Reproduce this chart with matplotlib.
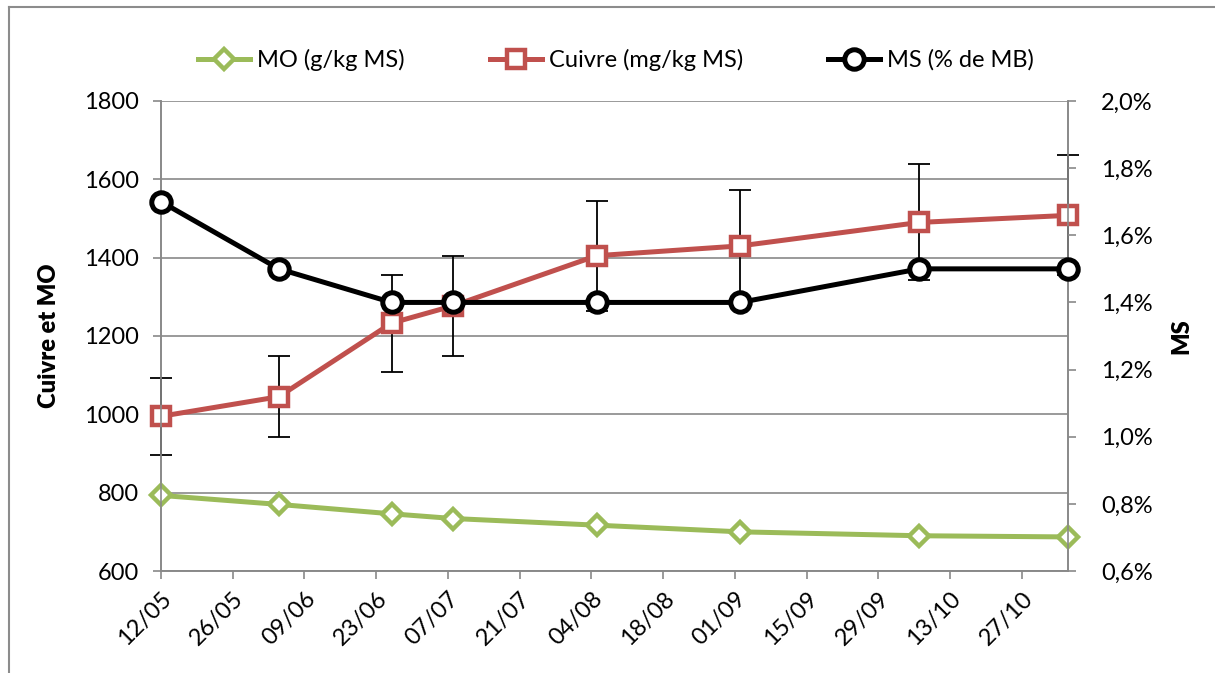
import datetime as dt

import matplotlib
matplotlib.use("Agg")
import matplotlib.pyplot as plt
import matplotlib.dates as mdates
from matplotlib.lines import Line2D
from matplotlib.ticker import FuncFormatter

plt.rcParams["font.family"] = ["Lato", "DejaVu Sans"]

# -----------------------------
# Data
# -----------------------------
YEAR = 2013
DATES = ["12/05", "04/06", "26/06", "08/07", "05/08", "02/09", "07/10", "05/11"]
MO = [793, 770, 746, 734, 717, 700, 690, 687]                   # g/kg MS
CUIVRE = [995, 1045, 1233, 1277, 1405, 1430, 1490, 1508]         # mg/kg MS
CUIVRE_ERR = [98, 104, 124, 127, 140, 143, 148, 153]
MS = [1.7, 1.5, 1.4, 1.4, 1.4, 1.4, 1.5, 1.5]                    # % de MB

LEFT_TICKS = [600, 800, 1000, 1200, 1400, 1600, 1800]
RIGHT_TICKS = [0.6, 0.8, 1.0, 1.2, 1.4, 1.6, 1.8, 2.0]

GREEN = "#9BBB59"
RED = "#C0504D"
GRID = "#898989"
FS = 17


def to_date(s):
    d, m = s.split("/")
    return dt.date(YEAR, int(m), int(d))


x = [to_date(s) for s in DATES]
xticks = [x[0] + dt.timedelta(days=14 * i) for i in range(13)]

fig = plt.figure(figsize=(12.15, 6.73), dpi=100)
ax = fig.add_axes([161 / 1215, 1 - 571 / 673, (1068 - 161) / 1215, (571 - 101) / 673])
ax2 = ax.twinx()

# error bars first, lines + markers on top
eb = ax.errorbar(x, CUIVRE, yerr=CUIVRE_ERR, fmt="none", ecolor="black",
                 elinewidth=1.3, capsize=8, capthick=1.3, zorder=3)
for art in eb.lines[1] + eb.lines[2]:
    art.set_clip_on(False)
l_mo, = ax.plot(x, MO, color=GREEN, lw=3.6, marker="D", ms=10.5, mfc="white",
                mec=GREEN, mew=3.2, zorder=4, clip_on=False, label="MO (g/kg MS)")
l_cu, = ax.plot(x, CUIVRE, color=RED, lw=3.6, marker="s", ms=13, mfc="white",
                mec=RED, mew=3.2, zorder=4, clip_on=False, label="Cuivre (mg/kg MS)")
l_ms, = ax2.plot(x, MS, color="black", lw=3.6, marker="o", ms=14, mfc="white",
                 mec="black", mew=3.6, zorder=5, clip_on=False, label="MS (% de MB)")

ax.set_xlim(x[0], x[-1])
ax.set_ylim(600, 1800)
ax.set_yticks(LEFT_TICKS)
ax2.set_ylim(0.6, 2.0)
ax2.set_yticks(RIGHT_TICKS)
ax2.yaxis.set_major_formatter(FuncFormatter(lambda v, p: f"{v:.1f}%".replace(".", ",")))

ax.set_xticks(xticks)
ax.xaxis.set_major_formatter(mdates.DateFormatter("%d/%m"))
for lab in ax.get_xticklabels():
    lab.set_rotation(45)
    lab.set_ha("right")
    lab.set_rotation_mode("anchor")

ax.grid(axis="y", color=GRID, lw=1.2)
ax.set_axisbelow(True)

for a in (ax, ax2):
    a.spines["top"].set_visible(False)
    for side in ("left", "right", "bottom"):
        a.spines[side].set_color(GRID)
        a.spines[side].set_linewidth(1.2)
    a.tick_params(colors=GRID, labelcolor="black", labelsize=FS,
                  length=6, width=1.2, direction="out")
ax.tick_params(axis="y", pad=10)
ax.tick_params(axis="x", pad=6)
ax2.tick_params(axis="y", pad=18)

ax.set_ylabel("Cuivre et MO", fontsize=17, fontweight="heavy")
ax.yaxis.set_label_coords(-0.111, 0.5)
ax2.set_ylabel("MS", fontsize=17, fontweight="heavy")
ax2.yaxis.set_label_coords(1.113, 0.5)

handles = [l_mo, l_cu, l_ms]
fig.legend(handles, [h.get_label() for h in handles], loc="center",
           bbox_to_anchor=(0.507, 0.911), ncol=3, frameon=False, fontsize=FS,
           handlelength=2.2, columnspacing=3.6, handletextpad=0.3)

# chart area border (only left and top visible in the crop)
fig.add_artist(Line2D([9 / 1215, 9 / 1215], [0, 1 - 7 / 673], color="#8c8c8c", lw=1.5))
fig.add_artist(Line2D([9 / 1215, 1], [1 - 7 / 673, 1 - 7 / 673], color="#8c8c8c", lw=1.5))

fig.savefig("out.png", dpi=100)
